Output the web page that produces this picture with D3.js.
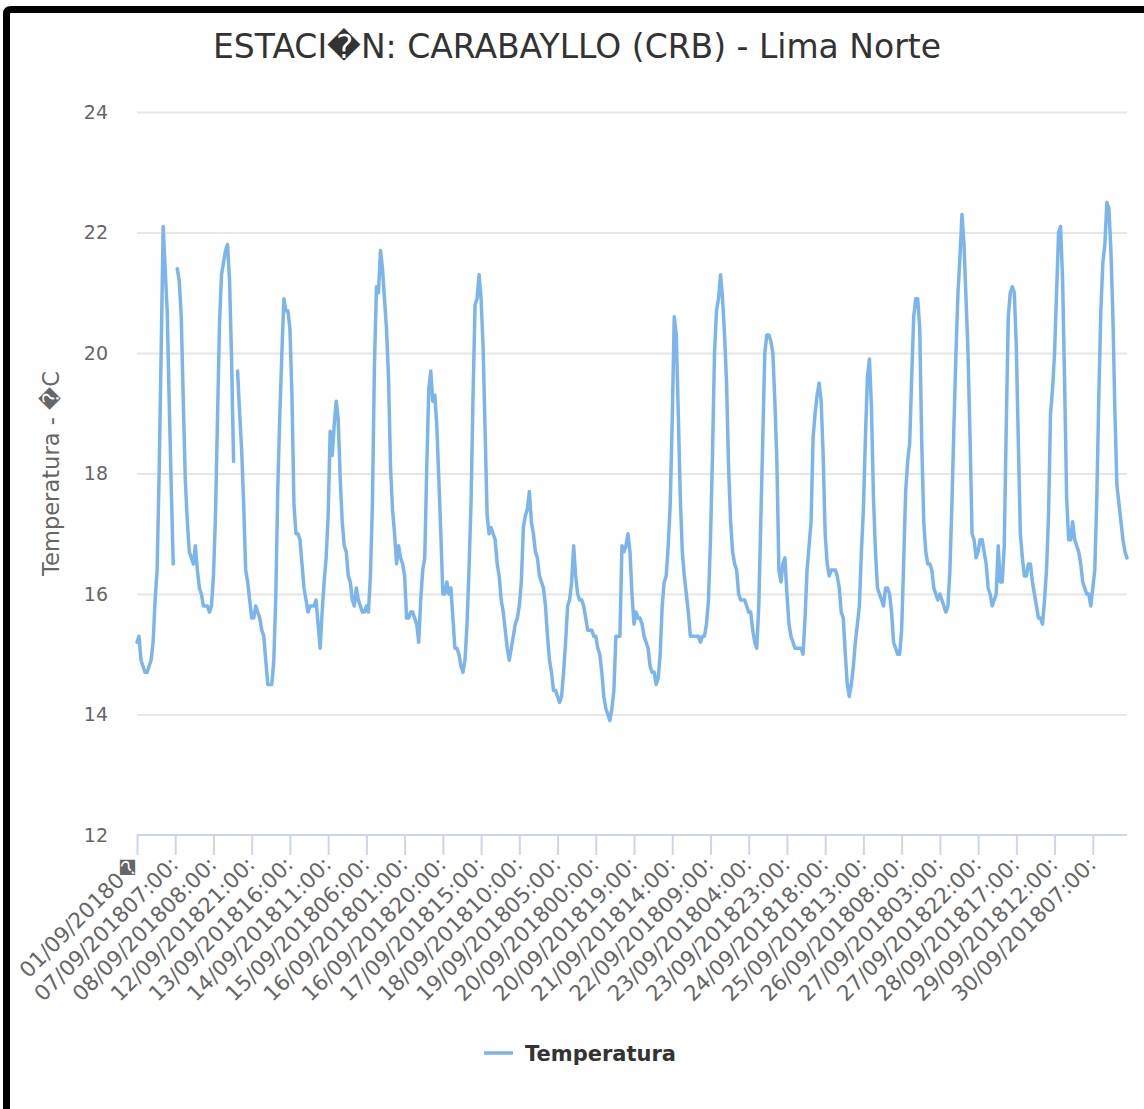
<!DOCTYPE html>
<html><head><meta charset="utf-8">
<script src="https://cdn.jsdelivr.net/npm/d3@7"></script>
<style>html,body{margin:0;padding:0;background:#fff}svg{display:block}</style>
</head><body>
<svg id="chart" width="1144" height="1109"></svg>
<script>
const titleText = "ESTACI\uFFFDN: CARABAYLLO (CRB) - Lima Norte";
const yAxisTitle = "Temperatura - \uFFFDC";
const seriesName = "Temperatura";
const yTicks = [12, 14, 16, 18, 20, 22, 24];
const tickIndices = [0, 19, 38, 57, 76, 95, 114, 133, 152, 171, 190, 209, 228, 247, 266, 285, 304, 323, 342, 361, 380, 399, 418, 437, 456, 475];
const tickLabels = [
  "01/09/20180\uFFFD", "07/09/201807:00:", "08/09/201808:00:", "12/09/201821:00:", "13/09/201816:00:",
  "14/09/201811:00:", "15/09/201806:00:", "16/09/201801:00:", "16/09/201820:00:", "17/09/201815:00:",
  "18/09/201810:00:", "19/09/201805:00:", "20/09/201800:00:", "20/09/201819:00:", "21/09/201814:00:",
  "22/09/201809:00:", "23/09/201804:00:", "23/09/201823:00:", "24/09/201818:00:", "25/09/201813:00:",
  "26/09/201808:00:", "27/09/201803:00:", "27/09/201822:00:", "28/09/201817:00:", "29/09/201812:00:",
  "30/09/201807:00:"
];
const temperatura = [
  15.2, 15.3, 14.9, 14.8, 14.7, 14.7, 14.8, 14.9, 15.2, 15.9,
  16.4, 18.0, 20.0, 22.1, 21.4, 20.7, 19.2, 17.8, 16.5, null,
  21.4, 21.2, 20.6, 19.2, 17.9, 17.2, 16.7, 16.6, 16.5, 16.8,
  16.4, 16.1, 16.0, 15.8, 15.8, 15.8, 15.7, 15.8, 16.3, 17.3,
  18.9, 20.5, 21.3, 21.5, 21.7, 21.8, 21.2, 19.9, 18.2, null,
  19.7, 19.0, 18.4, 17.5, 16.4, 16.2, 15.9, 15.6, 15.6, 15.8,
  15.7, 15.6, 15.4, 15.3, 14.9, 14.5, 14.5, 14.5, 14.9, 16.0,
  17.8, 19.0, 20.0, 20.9, 20.7, 20.7, 20.4, 19.3, 17.5, 17.0,
  17.0, 16.9, 16.5, 16.1, 15.9, 15.7, 15.8, 15.8, 15.8, 15.9,
  15.5, 15.1, 15.7, 16.2, 16.6, 17.3, 18.7, 18.3, 18.8, 19.2,
  18.9, 17.9, 17.2, 16.8, 16.7, 16.3, 16.2, 15.9, 15.8, 16.1,
  15.9, 15.8, 15.7, 15.7, 15.8, 15.7, 16.3, 17.5, 19.8, 21.1,
  21.0, 21.7, 21.4, 20.9, 20.4, 19.6, 18.1, 17.4, 17.0, 16.5,
  16.8, 16.6, 16.5, 16.3, 15.6, 15.6, 15.7, 15.7, 15.6, 15.5,
  15.2, 15.9, 16.4, 16.6, 18.1, 19.4, 19.7, 19.2, 19.3, 18.8,
  17.9, 17.0, 16.0, 16.0, 16.2, 16.0, 16.1, 15.6, 15.1, 15.1,
  15.0, 14.8, 14.7, 14.9, 15.5, 16.4, 17.5, 19.3, 20.8, 20.9,
  21.3, 20.9, 20.1, 18.7, 17.3, 17.0, 17.1, 17.0, 16.9, 16.5,
  16.3, 15.9, 15.7, 15.4, 15.1, 14.9, 15.1, 15.3, 15.5, 15.6,
  15.8, 16.2, 17.1, 17.3, 17.4, 17.7, 17.2, 17.0, 16.7, 16.6,
  16.3, 16.2, 16.1, 15.8, 15.3, 14.9, 14.7, 14.4, 14.4, 14.3,
  14.2, 14.3, 14.7, 15.2, 15.8, 15.9, 16.2, 16.8, 16.3, 16.0,
  15.9, 15.9, 15.8, 15.6, 15.4, 15.4, 15.4, 15.3, 15.3, 15.1,
  15.0, 14.7, 14.3, 14.1, 14.0, 13.9, 14.1, 14.4, 15.3, 15.3,
  15.3, 16.8, 16.7, 16.8, 17.0, 16.7, 16.0, 15.5, 15.7, 15.6,
  15.6, 15.5, 15.3, 15.2, 15.1, 14.8, 14.7, 14.7, 14.5, 14.6,
  15.0, 15.8, 16.2, 16.3, 16.8, 17.5, 18.9, 20.6, 20.3, 19.0,
  17.6, 16.7, 16.3, 16.0, 15.7, 15.3, 15.3, 15.3, 15.3, 15.3,
  15.2, 15.3, 15.3, 15.5, 15.9, 16.9, 18.3, 20.0, 20.7, 20.9,
  21.3, 20.9, 20.3, 19.5, 18.1, 17.2, 16.7, 16.5, 16.4, 16.0,
  15.9, 15.9, 15.9, 15.8, 15.7, 15.7, 15.4, 15.2, 15.1, 15.8,
  17.2, 18.6, 20.0, 20.3, 20.3, 20.2, 20.0, 19.2, 18.2, 16.4,
  16.2, 16.5, 16.6, 16.0, 15.5, 15.3, 15.2, 15.1, 15.1, 15.1,
  15.1, 15.0, 15.6, 16.4, 16.8, 17.2, 18.6, 19.0, 19.3, 19.5,
  19.2, 18.3, 17.0, 16.5, 16.3, 16.4, 16.4, 16.4, 16.3, 16.1,
  15.7, 15.6, 15.0, 14.5, 14.3, 14.5, 14.8, 15.2, 15.5, 15.8,
  16.7, 17.4, 18.6, 19.6, 19.9, 19.1, 17.6, 16.7, 16.1, 16.0,
  15.9, 15.8, 16.1, 16.1, 16.0, 15.7, 15.2, 15.1, 15.0, 15.0,
  15.4, 16.5, 17.7, 18.2, 18.5, 19.6, 20.6, 20.9, 20.9, 20.4,
  18.5, 17.2, 16.7, 16.5, 16.5, 16.4, 16.1, 16.0, 15.9, 16.0,
  15.9, 15.8, 15.7, 15.8, 16.4, 17.5, 18.8, 20.0, 21.0, 21.6,
  22.3, 21.8, 20.9, 20.0, 18.6, 17.0, 16.9, 16.6, 16.7, 16.9,
  16.9, 16.7, 16.5, 16.1, 16.0, 15.8, 15.9, 16.0, 16.8, 16.2,
  16.2, 16.8, 18.8, 20.6, 21.0, 21.1, 21.0, 20.1, 18.5, 17.0,
  16.6, 16.3, 16.3, 16.5, 16.5, 16.2, 16.0, 15.8, 15.6, 15.6,
  15.5, 15.9, 16.4, 17.3, 19.0, 19.4, 20.0, 21.0, 22.0, 22.1,
  21.2, 19.5, 17.6, 16.9, 16.9, 17.2, 16.9, 16.8, 16.7, 16.5,
  16.2, 16.1, 16.0, 16.0, 15.8, 16.1, 16.4, 17.6, 19.3, 20.7,
  21.5, 21.8, 22.5, 22.4, 21.7, 20.6, 19.0, 17.8, 17.5, 17.2,
  16.9, 16.7, 16.6
];

const svg = d3.select("#chart");
const W = 1144, H = 1109;
const plot = { left: 137, right: 1127, top: 112, bottom: 835 };
const font = "'DejaVu Sans', 'Liberation Sans', sans-serif";

svg.append("rect").attr("width", W).attr("height", H).attr("fill", "#fff");

// frame (black border seen at top and left)
svg.append("path")
  .attr("d", `M6.5,${H + 5} L6.5,14 Q6.5,9.5 11,9.5 L${W + 5},9.5`)
  .attr("fill", "none").attr("stroke", "#000").attr("stroke-width", 7);

const x = d3.scaleLinear().domain([0, temperatura.length - 1]).range([plot.left, plot.right]);
const y = d3.scaleLinear().domain([12, 24]).range([plot.bottom, plot.top]);

function fitText(sel, target) {
  const n = sel.node();
  const fs = parseFloat(sel.attr("font-size"));
  const w = n.getComputedTextLength();
  if (w > 0) sel.attr("font-size", (fs * target / w).toFixed(2));
}

// grid lines
const yAxis = d3.axisLeft(y).tickValues(yTicks).tickSize(-(plot.right - plot.left)).tickPadding(29);
const gy = svg.append("g").attr("transform", `translate(${plot.left},0)`).call(yAxis);
gy.select(".domain").remove();
gy.selectAll(".tick line").attr("stroke", "#e6e6e6").attr("stroke-width", 2)
  .attr("opacity", d => d === 12 ? 0 : 1);
gy.selectAll(".tick text").attr("font-family", font).attr("font-size", 19).attr("fill", "#666666");

// x axis
const xAxis = d3.axisBottom(x).tickValues(tickIndices).tickSize(20)
  .tickFormat((d, i) => tickLabels[i]);
const gx = svg.append("g").attr("transform", `translate(0,${plot.bottom})`).call(xAxis);
gx.select(".domain").attr("stroke", "#ccd6eb").attr("stroke-width", 2)
  .attr("d", `M${plot.left},0H${plot.right}`);
gx.selectAll(".tick line").attr("stroke", "#ccd6eb").attr("stroke-width", 2);
gx.selectAll(".tick text")
  .attr("font-family", font).attr("font-size", 21.5).attr("fill", "#666666")
  .attr("text-anchor", "end")
  .attr("y", 0).attr("dy", 0)
  .attr("transform", "translate(4,31) rotate(-45)");

// series line
const line = d3.line()
  .defined(d => d !== null)
  .x((d, i) => x(i))
  .y(d => y(d));
svg.append("path").datum(temperatura)
  .attr("d", line)
  .attr("fill", "none").attr("stroke", "#7cb5ec").attr("stroke-width", 3.5)
  .attr("stroke-linejoin", "round").attr("stroke-linecap", "round");

// title
const t = svg.append("text").attr("x", 577).attr("y", 58).attr("text-anchor", "middle")
  .attr("font-family", font).attr("font-size", 31).attr("fill", "#333333").text(titleText);
fitText(t, 728);

// y axis title
const yt = svg.append("text").attr("transform", `translate(59,${(plot.top + plot.bottom) / 2}) rotate(-90)`)
  .attr("text-anchor", "middle").attr("font-family", font).attr("font-size", 20)
  .attr("fill", "#666666").text(yAxisTitle);
fitText(yt, 205);

// legend
const lg = svg.append("g");
lg.append("line").attr("x1", 484).attr("x2", 513).attr("y1", 1053).attr("y2", 1053)
  .attr("stroke", "#7cb5ec").attr("stroke-width", 3.5);
const lt = lg.append("text").attr("x", 525).attr("y", 1061).attr("font-family", font)
  .attr("font-size", 20).attr("font-weight", "bold").attr("fill", "#333333").text(seriesName);
fitText(lt, 151);
</script>
</body></html>
